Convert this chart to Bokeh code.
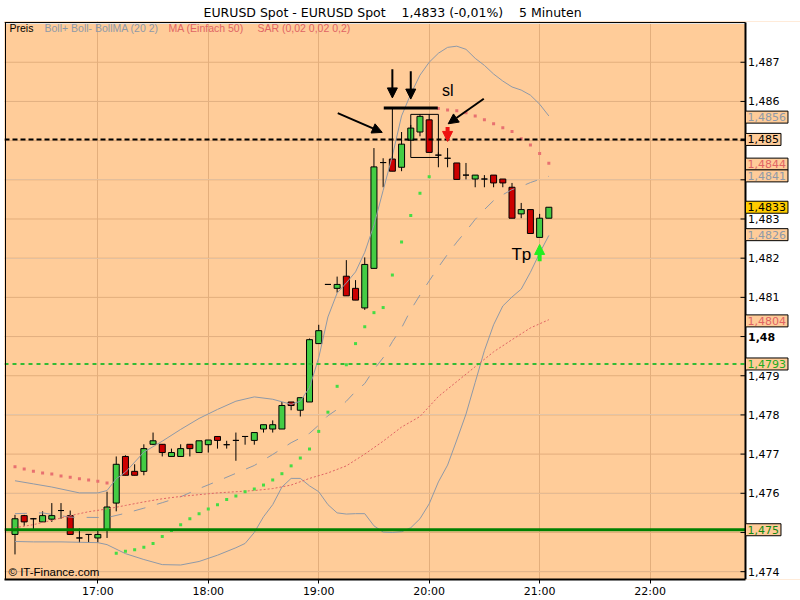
from bokeh.plotting import figure
from bokeh.models import Range1d, FixedTicker, Label, Arrow, NormalHead
from bokeh.core.properties import value
from bokeh.embed import file_html
from bokeh.resources import INLINE

# ---------------- data ----------------
start_time = "16:15"          # first 5-minute candle
step_min = 5

open_ = [1.47495, 1.47543, 1.47535, 1.47527, 1.47534, 1.47556, 1.47543, 1.47486, 1.47495, 1.47486,
         1.47507, 1.47575, 1.47694, 1.47656, 1.47656, 1.47725, 1.47725, 1.47694, 1.47694, 1.47725,
         1.47704, 1.47724, 1.47745, 1.47724, 1.47735, 1.47745, 1.47735, 1.47764, 1.47764, 1.47764,
         1.47833, 1.47812, 1.47833, 1.47982, 1.48133, 1.48123, 1.48154, 1.48123, 1.48073, 1.48174,
         1.48444, 1.48453, 1.48432, 1.48501, 1.48522, 1.48553, 1.48463, 1.48455, 1.48443, 1.48412,
         1.48402, 1.48402, 1.48412, 1.48402, 1.48381, 1.48313, 1.48324, 1.48253, 1.48302]
high = [1.47545, 1.47545, 1.47537, 1.47554, 1.47575, 1.47575, 1.47556, 1.47510, 1.47495, 1.47507,
        1.47604, 1.47694, 1.47697, 1.47674, 1.47725, 1.47755, 1.47725, 1.47714, 1.47725, 1.47725,
        1.47734, 1.47736, 1.47745, 1.47734, 1.47755, 1.47745, 1.47755, 1.47775, 1.47786, 1.47833,
        1.47833, 1.47844, 1.47995, 1.48030, 1.48133, 1.48153, 1.48195, 1.48144, 1.48202, 1.48481,
        1.48455, 1.48453, 1.48522, 1.48540, 1.48567, 1.48567, 1.48470, 1.48481, 1.48443, 1.48443,
        1.48412, 1.48412, 1.48412, 1.48402, 1.48392, 1.48341, 1.48324, 1.48313, 1.48330]
low = [1.47444, 1.47517, 1.47505, 1.47527, 1.47527, 1.47535, 1.47495, 1.47474, 1.47474, 1.47474,
       1.47486, 1.47554, 1.47646, 1.47646, 1.47646, 1.47723, 1.47694, 1.47694, 1.47694, 1.47694,
       1.47704, 1.47704, 1.47714, 1.47714, 1.47683, 1.47724, 1.47724, 1.47755, 1.47755, 1.47764,
       1.47812, 1.47796, 1.47833, 1.47982, 1.48133, 1.48112, 1.48104, 1.48093, 1.48068, 1.48174,
       1.48381, 1.48422, 1.48422, 1.48501, 1.48511, 1.48470, 1.48432, 1.48432, 1.48401, 1.48401,
       1.48381, 1.48381, 1.48381, 1.48381, 1.48302, 1.48302, 1.48263, 1.48253, 1.48302]
close = [1.47535, 1.47527, 1.47535, 1.47543, 1.47543, 1.47556, 1.47495, 1.47486, 1.47495, 1.47495,
         1.47565, 1.47674, 1.47646, 1.47646, 1.47714, 1.47734, 1.47704, 1.47704, 1.47714, 1.47714,
         1.47734, 1.47736, 1.47735, 1.47724, 1.47735, 1.47745, 1.47755, 1.47775, 1.47775, 1.47824,
         1.47824, 1.47844, 1.47992, 1.48015, 1.48133, 1.48133, 1.48104, 1.48093, 1.48184, 1.48433,
         1.48444, 1.48422, 1.48491, 1.48532, 1.48562, 1.48470, 1.48463, 1.48455, 1.48401, 1.48412,
         1.48412, 1.48402, 1.48392, 1.48392, 1.48302, 1.48324, 1.48263, 1.48302, 1.48330]

# Parabolic SAR, one value per candle
sar = [1.47668, 1.47662, 1.47656, 1.47652, 1.47649, 1.47644, 1.47641, 1.47637, 1.47634, 1.47631,
       1.47626, 1.47447, 1.47452, 1.47456, 1.47462, 1.47472, 1.47490, 1.47505, 1.47520, 1.47535,
       1.47548, 1.47560, 1.47571, 1.47584, 1.47593, 1.47604, 1.47611, 1.47621, 1.47634, 1.47650,
       1.47670, 1.47690, 1.47713, 1.47758, 1.47807, 1.47873, 1.47928, 1.47982, 1.48025, 1.48061,
       1.48074, 1.48157, 1.48241, 1.48309, 1.48366, 1.48408, 1.48582, 1.48578, 1.48576, 1.48571,
       1.48563, 1.48553, 1.48543, 1.48533, 1.48523, 1.48505, 1.48489, 1.48467, 1.48442]

# Bollinger upper band (sampled)
boll_up_t = ["16:15", "16:25", "16:35", "16:50", "17:00", "17:05", "17:10", "17:15", "17:25", "17:35",
             "17:45", "17:55", "18:05", "18:15", "18:25", "18:35", "18:45", "18:50", "18:55", "19:00",
             "19:05", "19:10", "19:15", "19:20", "19:25", "19:30", "19:35", "19:40", "19:45", "19:50",
             "19:55", "20:00", "20:05", "20:10", "20:15", "20:20", "20:25", "20:30", "20:35", "20:40",
             "20:45", "20:50", "20:55", "21:00", "21:05"]
boll_up_v = [1.47632, 1.47624, 1.47616, 1.47601, 1.47601, 1.47607, 1.47637, 1.47654, 1.47705, 1.47733,
             1.47763, 1.47791, 1.47814, 1.47835, 1.47846, 1.47840, 1.47827, 1.47835, 1.47870, 1.47946,
             1.48050, 1.48111, 1.48137, 1.48165, 1.48215, 1.48284, 1.48373, 1.48461, 1.48563, 1.48619,
             1.48667, 1.48700, 1.48723, 1.48738, 1.48741, 1.48733, 1.48710, 1.48692, 1.48670, 1.48652,
             1.48637, 1.48629, 1.48616, 1.48593, 1.48563]

# Bollinger lower band (sampled)
boll_lo_t = ["16:15", "16:25", "16:40", "17:00", "17:05", "17:15", "17:25", "17:35", "17:45", "17:55",
             "18:05", "18:15", "18:20", "18:25", "18:30", "18:35", "18:40", "18:45", "18:50", "18:55",
             "19:00", "19:05", "19:10", "19:15", "19:20", "19:25", "19:30", "19:35", "19:40", "19:45",
             "19:50", "19:55", "20:00", "20:05", "20:10", "20:15", "20:20", "20:25", "20:30", "20:35",
             "20:40", "20:45", "20:50", "20:55", "21:00", "21:05"]
boll_lo_v = [1.47477, 1.47476, 1.47476, 1.47474, 1.47469, 1.47446, 1.47431, 1.47418, 1.47417, 1.47426,
             1.47442, 1.47461, 1.47472, 1.47500, 1.47540, 1.47571, 1.47616, 1.47638, 1.47638, 1.47619,
             1.47604, 1.47571, 1.47550, 1.47547, 1.47548, 1.47548, 1.47517, 1.47501, 1.47500, 1.47502,
             1.47512, 1.47535, 1.47573, 1.47629, 1.47672, 1.47736, 1.47802, 1.47883, 1.47964, 1.48030,
             1.48078, 1.48101, 1.48121, 1.48164, 1.48213, 1.48258]

# Bollinger middle band (sampled)
boll_ma_t = ["16:15", "16:30", "16:45", "17:05", "17:15", "17:25", "17:35", "17:45", "17:55", "18:05",
             "18:15", "18:25", "18:35", "18:45", "18:55", "19:00", "19:05", "19:10", "19:15", "19:20",
             "19:25", "19:30", "19:35", "19:40", "19:45", "19:50", "19:55", "20:00", "20:05", "20:10",
             "20:15", "20:20", "20:25", "20:30", "20:35", "20:40", "20:45", "20:50", "20:55", "21:00",
             "21:05"]
boll_ma_v = [1.47548, 1.47550, 1.47539, 1.47538, 1.47549, 1.47562, 1.47576, 1.47591, 1.47612, 1.47631,
             1.47651, 1.47671, 1.47699, 1.47729, 1.47753, 1.47774, 1.47798, 1.47814, 1.47835, 1.47860,
             1.47880, 1.47916, 1.47946, 1.47987, 1.48022, 1.48068, 1.48106, 1.48142, 1.48177, 1.48210,
             1.48241, 1.48269, 1.48299, 1.48324, 1.48347, 1.48362, 1.48375, 1.48383, 1.48393, 1.48401,
             1.48409]

# Simple moving average 50 (sampled)
ma50_t = ["16:15", "16:25", "16:35", "16:45", "16:55", "17:05", "17:15", "17:25", "17:35", "17:45",
          "18:05", "18:25", "18:35", "18:45", "18:55", "19:05", "19:15", "19:25", "19:35", "19:45",
          "19:55", "20:05", "20:15", "20:25", "20:35", "20:45", "20:55", "21:05"]
ma50_v = [1.47512, 1.47520, 1.47531, 1.47543, 1.47553, 1.47560, 1.47569, 1.47578, 1.47586, 1.47592,
          1.47601, 1.47607, 1.47612, 1.47621, 1.47638, 1.47652, 1.47670, 1.47700, 1.47733, 1.47769,
          1.47796, 1.47847, 1.47885, 1.47923, 1.47961, 1.47992, 1.48022, 1.48043]

# horizontal levels drawn by the user
hline_levels = [1.48503, 1.4793, 1.47507]
hline_labels = ["1,485", "1,4793", "1,475"]

# price axis
y_ticks = [1.474, 1.476, 1.477, 1.478, 1.479, 1.481, 1.482, 1.483, 1.486, 1.487]
y_tick_labels = ["1,474", "1,476", "1,477", "1,478", "1,479", "1,481", "1,482", "1,483", "1,486", "1,487"]
y_grid = [1.474, 1.475, 1.476, 1.477, 1.478, 1.479, 1.480, 1.481, 1.482, 1.483, 1.484, 1.485, 1.486, 1.487]
y_bold_tick, y_bold_label = 1.480, "1,48"
x_tick_labels = ["17:00", "18:00", "19:00", "20:00", "21:00", "22:00"]

title_parts = ["EURUSD Spot - EURUSD Spot", "1,4833 (-0,01%)", "5 Minuten"]
legend_parts = ["Preis", "Boll+ Boll- BollMA (20 2)", "MA (Einfach 50)", "SAR (0,02 0,02 0,2)"]


def mins(s):
    parts = [float(v) for v in s.split(":")]
    return parts[0] * 60 + parts[1] + (parts[2] / 60 if len(parts) > 2 else 0)


def fmt4(v):
    return f"{v:.4f}".replace(".", ",")


# ---------------- styles / layout ----------------
BG = "#FFCC99"
GRID = "#E3AE7C"
BOLL = "#8E99A8"
MARED = "#E06464"
GREEN_C = "#44CC44"
RED_C = "#CC0000"
FONT = "DejaVu Sans"
LFONT = "Liberation Sans"

W, H = 800, 600
LEFT, TOP, BOTTOM = 4, 20, 20
FRAME_W, FRAME_H = W - LEFT, H - TOP - BOTTOM
x_start, x_end = mins("16:09:18"), mins("23:21:43")
ax_x = mins("22:51:50")                       # position of the price axis line
PPM = FRAME_W / (x_end - x_start)             # pixels per minute
y_lo, y_hi = 1.47380, 1.48804

t0 = mins(start_time)
t = [t0 + step_min * k for k in range(len(open_))]

p = figure(width=W, height=H, x_range=Range1d(x_start, x_end), y_range=Range1d(y_lo, y_hi),
           output_backend="svg", toolbar_location=None, y_axis_location=None,
           min_border_left=LEFT, min_border_top=TOP, min_border_right=0, min_border_bottom=BOTTOM,
           background_fill_color=BG, border_fill_color="white", outline_line_color=None)

# title
p.title.text = title_parts[0] + "\u00a0" * 4 + title_parts[1] + "\u00a0" * 4 + title_parts[2]
p.title.align = "left"
p.title.offset = 199
p.title.standoff = 4
p.title.text_font = FONT
p.title.text_font_size = "12.5px"
p.title.text_font_style = "normal"
p.title.text_color = "black"

# time axis (real bokeh axis)
p.xaxis.ticker = FixedTicker(ticks=[mins(s) for s in x_tick_labels])
p.xaxis.major_label_overrides = {int(mins(s)): s for s in x_tick_labels}
p.xaxis.bounds = (x_start, ax_x)
p.xaxis.axis_line_width = 2
p.xaxis.axis_line_color = "black"
p.xaxis.minor_tick_line_color = None
p.xaxis.major_tick_line_color = "black"
p.xaxis.major_tick_in = 0
p.xaxis.major_tick_out = 4
p.xaxis.major_label_standoff = 1
p.xaxis.major_label_text_font = FONT
p.xaxis.major_label_text_font_size = "11px"
p.xaxis.major_label_text_color = "black"
p.xgrid.grid_line_color = GRID

# horizontal grid
p.segment([x_start] * len(y_grid), y_grid, [ax_x] * len(y_grid), y_grid, line_color=GRID, line_width=1)

# candles
body_top = [max(o, c) for o, c in zip(open_, close)]
body_bot = [min(o, c) for o, c in zip(open_, close)]
colors = [GREEN_C if c > o else (RED_C if c < o else "black") for o, c in zip(open_, close)]
p.segment(t, low, t, high, line_color="black", line_width=1)
p.vbar(x=t, width=6 / PPM, top=body_top, bottom=body_bot, fill_color=colors,
       line_color="black", line_width=1)

# indicators
p.line([mins(s) for s in boll_up_t], boll_up_v, line_color=BOLL, line_width=1)
p.line([mins(s) for s in boll_lo_t], boll_lo_v, line_color=BOLL, line_width=1)
p.line([mins(s) for s in boll_ma_t], boll_ma_v, line_color=BOLL, line_width=1, line_dash="12 12")
p.line([mins(s) for s in ma50_t], ma50_v, line_color=MARED, line_width=1, line_dash="2 2")
sar_colors = ["#E87070" if s > c else "#44DD44" for s, c in zip(sar, close)]
p.scatter(t, sar, marker="square", size=3, fill_color=sar_colors, line_color=None)

# horizontal levels
p.segment([x_start], [hline_levels[0]], [ax_x], [hline_levels[0]], line_color="black",
          line_width=2, line_dash="5 3")
p.segment([x_start], [hline_levels[1]], [ax_x], [hline_levels[1]], line_color="#33BB33",
          line_width=2, line_dash="4 4")
p.segment([x_start], [hline_levels[2]], [ax_x], [hline_levels[2]], line_color="#008000",
          line_width=3)

# hand-drawn annotations (stop-loss bar, box, arrows)
p.segment([mins("19:35:20")], [1.48583], [mins("20:04:40")], [1.48583], line_color="black", line_width=3)
p.segment([mins("19:40")], [1.48583], [mins("19:40")], [1.48454], line_color="black", line_width=1)
p.quad(left=[mins("19:50")], right=[mins("20:05")], top=[1.48567], bottom=[1.48457],
       fill_color=None, line_color="black", line_width=1)

# area right of the price axis, frame borders, price axis line and ticks
p.quad(left=[ax_x], right=[x_end], bottom=[y_lo], top=[y_hi], fill_color="white", line_color=None)
y_top_line = y_hi - 1 / (FRAME_H / (y_hi - y_lo))
p.segment([x_start + 1 / PPM], [y_lo], [x_start + 1 / PPM], [y_top_line], line_color="black", line_width=1)
p.segment([x_start], [y_top_line], [ax_x], [y_top_line], line_color="black", line_width=1)
p.segment([ax_x], [y_lo], [ax_x], [y_top_line], line_color="black", line_width=2)
p.segment([ax_x - 5 / PPM] * len(y_grid), y_grid, [ax_x] * len(y_grid), y_grid,
          line_color="black", line_width=1)
p.text(x=[ax_x + 2.5 / PPM] * len(y_ticks), y=y_ticks, text=y_tick_labels,
       text_font=value(FONT), text_font_size="11px", text_baseline="middle",
       text_align="left", text_color="black")
p.text(x=[ax_x + 2.5 / PPM], y=[y_bold_tick], text=[y_bold_label], text_font=value(FONT),
       text_font_size="11px", text_font_style="bold", text_baseline="middle",
       text_align="left", text_color="black")


def head(col, size):
    return NormalHead(size=size, fill_color=col, line_color=col)


for xs, ys, xe, ye in [("19:40", 1.48682, "19:40", 1.48609),
                       ("19:50", 1.48677, "19:50", 1.48606),
                       ("19:10:20", 1.48570, "19:34:30", 1.48521),
                       ("20:29:40", 1.48607, "20:10:20", 1.48543)]:
    p.add_layout(Arrow(x_start=mins(xs), y_start=ys, x_end=mins(xe), y_end=ye,
                       line_color="black", line_width=2, end=head("black", 10)))
p.add_layout(Arrow(x_start=mins("20:10"), y_start=1.48535, x_end=mins("20:10"), y_end=1.48498,
                   line_color="#EE1111", line_width=4, end=head("#EE1111", 10)))
p.add_layout(Arrow(x_start=mins("21:00"), y_start=1.48192, x_end=mins("21:00"), y_end=1.48235,
                   line_color="#22EE22", line_width=4, end=head("#22EE22", 10)))
p.add_layout(Label(x=mins("20:07"), y=1.48629, text="sl", text_font=LFONT, text_font_size="16px",
                   text_baseline="middle", text_align="left", text_color="black"))
p.add_layout(Label(x=mins("20:44:40"), y=1.48210, text="Tp", text_font=LFONT, text_font_size="17px",
                   text_baseline="middle", text_align="left", text_color="black"))

# legend strip
for txt, xpos, col in zip(legend_parts, [5, 40, 164, 253], ["black", BOLL, MARED, MARED]):
    p.add_layout(Label(x=xpos, y=FRAME_H - 8, x_units="screen", y_units="screen", text=txt,
                       text_font=LFONT, text_font_size="10.5px", text_baseline="middle",
                       text_align="left", text_color=col))

p.add_layout(Label(x=4, y=8, x_units="screen", y_units="screen", text="\u00a9 IT-Finance.com",
                   text_font=LFONT, text_font_size="11.5px", text_baseline="middle",
                   text_align="left", text_color="black"))

# value boxes on the price axis
boxes = [
    (round(boll_up_v[-1], 4), BOLL, BG, None),
    (hline_levels[0], "black", BG, hline_labels[0]),
    (round(sar[-1], 4), MARED, BG, None),
    (round(boll_ma_v[-1], 4), BOLL, BG, None),
    (round(close[-1], 4), "black", "#FFCC00", None),
    (round(boll_lo_v[-1], 4), BOLL, BG, None),
    (round(ma50_v[-1], 4), MARED, BG, None),
    (hline_levels[1], "#22AA22", BG, hline_labels[1]),
    (hline_levels[2], "#118811", BG, hline_labels[2]),
]
for val, col, bg, txt in boxes:
    p.add_layout(Label(x=ax_x, y=val, text=txt if txt else fmt4(val),
                       text_font=FONT, text_font_size="11px", text_baseline="middle",
                       text_align="left", text_color=col, background_fill_color=bg,
                       border_line_color="black", border_line_width=1, padding=2))

open("out.html", "w").write(file_html(p, INLINE))
